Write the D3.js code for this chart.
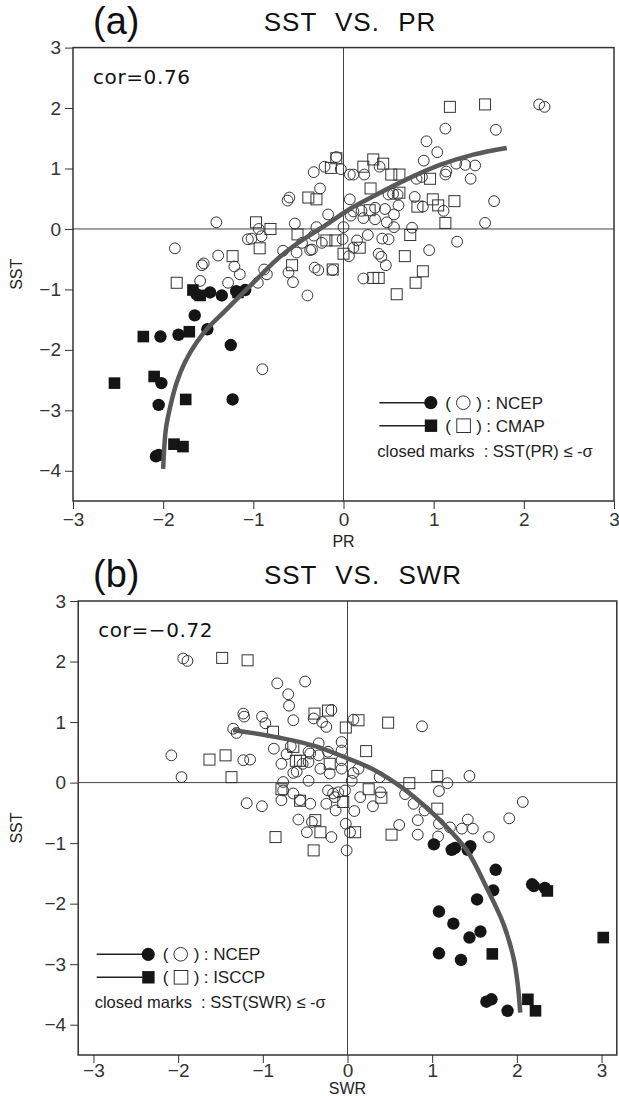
<!DOCTYPE html>
<html>
<head>
<meta charset="utf-8">
<script src="https://cdn.jsdelivr.net/npm/d3@7"></script>
<style>
  body { margin: 0; background: #fff; }
</style>
</head>
<body>
<script>
// ---- panel (a): SST vs PR ----
const prNcepOpen = [
  [-1.87,-0.32],[-1.41,0.11],[-1.39,-0.44],[-1.57,-0.60],[-1.55,-0.57],[-1.59,-0.86],[-1.28,-0.89],
  [-1.21,-0.62],[-1.15,-0.75],[-1.06,-0.17],[-1.02,-0.16],[-0.94,0.00],[-0.91,-0.12],[-0.88,-0.67],
  [-0.85,-0.75],[-0.95,-0.89],[-0.67,-0.36],[-0.61,-0.72],[-0.56,-0.88],[-0.54,0.09],[-0.52,-0.39],
  [-0.46,-0.23],[-0.40,-1.10],[-0.37,-0.35],[-0.35,-0.34],[-0.33,-0.11],[-0.32,-0.64],[-0.28,-0.68],
  [-0.30,0.03],[-0.24,-0.23],[-0.17,0.24],[-0.12,-0.68],[-0.01,-0.17],[0.00,0.03],[0.06,-0.45],
  [0.07,0.49],[0.07,0.90],[-0.62,0.47],[-0.60,0.52],[-0.33,0.94],[-0.26,0.67],[-0.21,1.03],
  [-0.03,0.99],[-0.08,1.19],[-0.90,-2.32],
  [2.17,2.06],[2.23,2.02],[1.13,1.66],[1.69,1.64],[0.92,1.45],[1.04,1.27],[0.89,1.13],[1.25,1.08],
  [1.35,1.06],[1.46,1.05],[1.14,0.95],[1.13,0.90],[1.41,0.83],[0.81,0.83],[0.87,0.86],[0.11,0.90],
  [0.23,0.90],[0.40,1.03],[0.50,0.57],[0.55,0.58],[0.60,0.57],[0.79,0.53],[0.61,0.39],[1.67,0.46],
  [0.88,0.37],[1.11,0.30],[0.35,0.35],[0.46,0.33],[0.11,0.29],[0.20,0.30],[0.56,0.24],[0.08,0.22],
  [0.22,0.18],[0.35,0.16],[0.48,0.11],[0.56,0.03],[0.76,0.02],[1.57,0.10],[0.27,-0.10],[0.43,-0.16],
  [0.50,-0.17],[0.15,-0.19],[0.11,-0.31],[1.26,-0.21],[0.95,-0.35],[0.39,-0.41],[0.42,-0.46],
  [0.47,-0.60],[0.22,-0.82]
];
const prCmapOpen = [
  [-1.85,-0.89],[-1.23,-0.45],[-0.97,0.11],[-0.93,-0.32],[-0.81,0.00],[-0.51,-0.09],[-0.57,-0.60],
  [-0.39,0.52],[-0.30,0.49],[-0.14,1.01],[-0.08,1.17],[-0.12,-0.67],[-0.19,-0.19],[-0.09,-0.19],
  [0.00,-0.41],
  [1.18,2.02],[1.57,2.06],[0.33,1.15],[0.44,1.08],[0.22,1.03],[0.53,0.90],[0.62,0.90],[0.96,0.83],
  [0.30,0.67],[0.62,0.60],[0.99,0.49],[1.23,0.46],[0.82,0.37],[1.05,0.39],[0.29,0.31],[1.13,0.10],
  [0.74,-0.10],[0.18,-0.31],[0.68,-0.45],[0.88,-0.70],[0.80,-0.89],[0.33,-0.81],[0.39,-0.81],
  [0.59,-1.08]
];
const prNcepClosed = [
  [-1.63,-1.08],[-1.48,-1.05],[-1.35,-1.10],[-1.19,-1.03],[-1.09,-1.01],[-1.65,-1.43],[-1.51,-1.66],
  [-2.03,-1.78],[-1.83,-1.75],[-1.25,-1.92],[-2.02,-2.55],[-2.05,-2.91],[-1.23,-2.82],[-2.08,-3.76],
  [-2.05,-3.74]
];
const prCmapClosed = [
  [-1.67,-1.01],[-1.59,-1.10],[-1.17,-1.05],[-2.22,-1.78],[-1.71,-1.70],[-2.54,-2.55],[-2.10,-2.44],
  [-1.75,-2.82],[-1.88,-3.56],[-1.78,-3.60]
];
const prFit = [
  [-2.00,-3.97],[-1.97,-3.31],[-1.92,-2.93],[-1.85,-2.54],[-1.76,-2.21],[-1.63,-1.88],[-1.50,-1.63],
  [-1.33,-1.38],[-1.15,-1.11],[-0.96,-0.83],[-0.78,-0.56],[-0.56,-0.29],[-0.19,0.07],[0.07,0.33],
  [0.33,0.54],[0.70,0.82],[1.07,1.06],[1.44,1.23],[1.81,1.34]
];

// ---- panel (b): SST vs SWR ----
const swrNcepOpen = [
  [-1.94,2.05],[-1.89,2.01],[-0.83,1.64],[-0.50,1.67],[-0.70,1.46],[-0.69,1.27],[-1.23,1.14],
  [-1.22,1.09],[-1.01,1.09],[-0.97,0.98],[-0.64,1.03],[-0.19,1.20],[-0.40,1.06],[-0.30,1.00],
  [-0.25,0.92],[-1.35,0.89],[-1.31,0.82],[-0.87,0.56],[-0.67,0.60],[-0.72,0.47],[-0.44,0.48],
  [-0.34,0.45],[-0.07,0.67],[-0.78,0.31],[-0.64,0.16],[-0.60,0.18],[-0.46,0.34],[-0.53,0.31],
  [-0.32,0.23],[-0.21,0.15],[-0.07,0.23],[-2.08,0.45],[-1.96,0.09],[-1.23,0.37],[-1.15,0.38],
  [-0.76,0.01],[-0.76,-0.13],[-0.46,0.03],[-0.64,-0.18],[-0.56,-0.29],[-0.44,-0.35],[-0.23,-0.13],
  [-0.17,-0.18],[-0.11,-0.16],[-0.25,-0.35],[-1.19,-0.34],[-1.01,-0.39],
  [-0.46,0.51],[-0.34,0.65],[-0.07,0.53],[-0.23,0.51],[-0.07,0.37],[-0.15,-0.24],[-0.03,-0.13],
  [-0.78,-0.29],
  [0.07,1.04],[0.88,0.93],[1.44,0.11],[1.18,-0.01],[1.08,-0.14],[2.07,-0.32],[0.13,0.23],
  [0.07,0.16],[0.05,0.03],[0.38,0.09],[0.68,-0.19],[0.15,-0.24],[0.39,-0.16],[0.78,-0.35],
  [0.30,-0.39],
  [-0.58,-0.61],[-0.42,-0.65],[-0.48,-0.82],[-0.19,-0.90],[-0.01,-1.12],[-0.14,-0.46],[-0.02,-0.68],
  [1.91,-0.59],[1.67,-0.90],[1.42,-0.61],[1.48,-0.76],[1.35,-0.76],[1.21,-0.74],[1.08,-0.68],
  [1.07,-0.89],[0.91,-0.46],[0.83,-0.62],[0.83,-0.86],[0.61,-0.70],[0.08,-0.47],[0.03,-0.82]
];
const swrIsccpOpen = [
  [-1.48,2.06],[-1.18,2.02],[-0.39,1.14],[-0.23,1.19],[-0.88,0.84],[-0.64,0.59],[-0.61,0.36],
  [-0.56,0.36],[-0.21,0.31],[-0.02,0.91],[-1.63,0.38],[-1.44,0.45],[-1.37,0.09],[-0.78,-0.11],
  [-0.56,-0.30],[-0.05,-0.32],
  [0.13,1.03],[0.48,0.99],[0.22,0.52],[1.06,0.11],[0.73,-0.01],[0.25,-0.11],[0.40,-0.25],
  [1.06,-0.43],
  [-0.85,-0.90],[-0.40,-1.12],[-0.38,-0.62],[-0.32,-0.82],[0.52,-0.86],[0.09,-0.82]
];
const swrNcepClosed = [
  [1.02,-1.02],[1.23,-1.11],[1.27,-1.08],[1.42,-1.11],[1.45,-1.05],[1.75,-1.44],[2.18,-1.68],
  [2.20,-1.71],[2.33,-1.74],[1.72,-1.78],[1.53,-1.93],[1.08,-2.13],[1.25,-2.33],[1.57,-2.46],
  [1.44,-2.56],[1.08,-2.82],[1.34,-2.93],[1.64,-3.62],[1.70,-3.58],[1.89,-3.77]
];
const swrIsccpClosed = [
  [2.36,-1.79],[3.02,-2.56],[1.71,-2.83],[2.13,-3.58],[2.22,-3.77]
];
const swrFit = [
  [-1.35,0.87],[-0.80,0.74],[-0.40,0.61],[0.00,0.40],[0.30,0.22],[0.66,-0.10],[0.97,-0.46],
  [1.09,-0.62],[1.41,-1.12],[1.64,-1.73],[1.84,-2.33],[1.96,-2.89],[2.01,-3.33],[2.04,-3.80]
];

const xTicks = [-3, -2, -1, 0, 1, 2, 3];
const yTicks = [-4, -3, -2, -1, 0, 1, 2, 3];

const width = 619, height = 1096;
const sans = "'Liberation Sans', Arial, sans-serif";
const dejavu = "'DejaVu Sans', sans-serif";

const svg = d3.select("body").append("svg")
    .attr("width", width)
    .attr("height", height)
    .attr("viewBox", [0, 0, width, height])
    .style("background", "#fff");

function drawPanel(cfg) {
    const x = d3.scaleLinear().domain(cfg.xDomain).range([cfg.left, cfg.right]);
    const y = d3.scaleLinear().domain([-4.5, 3]).range([cfg.bottom, cfg.top]);
    const g = svg.append("g");

    // zero lines
    g.append("line")
        .attr("x1", cfg.left).attr("x2", cfg.right)
        .attr("y1", y(0)).attr("y2", y(0))
        .attr("stroke", "#444").attr("stroke-width", 1);
    g.append("line")
        .attr("x1", x(0)).attr("x2", x(0))
        .attr("y1", cfg.top).attr("y2", cfg.bottom)
        .attr("stroke", "#444").attr("stroke-width", 1);

    // axes (ticks + labels only, the frame is drawn below)
    g.append("g")
        .attr("transform", `translate(0,${cfg.bottom})`)
        .call(d3.axisBottom(x).tickValues(xTicks).tickSize(8).tickPadding(cfg.xPad).tickFormat(d3.format("d")))
        .call(a => a.select(".domain").remove())
        .call(a => a.selectAll(".tick line").attr("stroke", "#333"))
        .call(a => a.selectAll("text").style("font-family", sans).style("font-size", "19px").attr("fill", "#333"));

    g.append("g")
        .attr("transform", `translate(${cfg.left},0)`)
        .call(d3.axisLeft(y).tickValues(yTicks).tickSize(8).tickPadding(4).tickFormat(d3.format("d")))
        .call(a => a.select(".domain").remove())
        .call(a => a.selectAll(".tick line").attr("stroke", "#333"))
        .call(a => a.selectAll("text").style("font-family", sans).style("font-size", "19px").attr("fill", "#333"));

    // frame
    g.append("rect")
        .attr("x", cfg.left).attr("y", cfg.top)
        .attr("width", cfg.right - cfg.left).attr("height", cfg.bottom - cfg.top)
        .attr("fill", "none").attr("stroke", "#333").attr("stroke-width", 1.5);

    // open marks
    g.append("g").selectAll("circle")
        .data(cfg.ncepOpen)
        .join("circle")
        .attr("cx", d => x(d[0])).attr("cy", d => y(d[1])).attr("r", 5.4)
        .attr("fill", "none").attr("stroke", "#333").attr("stroke-width", 1);
    g.append("g").selectAll("rect")
        .data(cfg.otherOpen)
        .join("rect")
        .attr("x", d => x(d[0]) - 5.5).attr("y", d => y(d[1]) - 5.5)
        .attr("width", 11).attr("height", 11)
        .attr("fill", "none").attr("stroke", "#333").attr("stroke-width", 1);

    // closed marks
    g.append("g").selectAll("circle")
        .data(cfg.ncepClosed)
        .join("circle")
        .attr("cx", d => x(d[0])).attr("cy", d => y(d[1])).attr("r", 6.2)
        .attr("fill", "#151515");
    g.append("g").selectAll("rect")
        .data(cfg.otherClosed)
        .join("rect")
        .attr("x", d => x(d[0]) - 5.8).attr("y", d => y(d[1]) - 5.8)
        .attr("width", 11.6).attr("height", 11.6)
        .attr("fill", "#151515");

    // fitted curve
    g.append("path")
        .datum(cfg.fit)
        .attr("d", d3.line().x(d => x(d[0])).y(d => y(d[1])).curve(d3.curveCatmullRom))
        .attr("fill", "none").attr("stroke", "#595959").attr("stroke-width", 4.5);

    // titles
    g.append("text")
        .attr("x", 93).attr("y", cfg.top - 14)
        .style("font-family", sans).style("font-size", "38px").attr("fill", "#111")
        .text(cfg.tag);
    g.append("text")
        .attr("x", cfg.titleX).attr("y", cfg.top - 17)
        .attr("text-anchor", "middle")
        .style("font-family", sans).style("font-size", "26px").style("word-spacing", "10px")
        .style("letter-spacing", "1px").attr("fill", "#111")
        .text(cfg.title);
    g.append("text")
        .attr("x", cfg.left + 20).attr("y", cfg.top + 36)
        .style("font-family", dejavu).style("font-size", "20px").style("letter-spacing", "0.6px")
        .attr("fill", "#111")
        .text(cfg.cor);

    // axis labels
    g.append("text")
        .attr("transform", `translate(22,${(cfg.top + cfg.bottom) / 2}) rotate(-90)`)
        .attr("text-anchor", "middle")
        .style("font-family", sans).style("font-size", "16px").attr("fill", "#222")
        .text("SST");
    g.append("text")
        .attr("x", x(0)).attr("y", cfg.xLabelY)
        .attr("text-anchor", "middle")
        .style("font-family", sans).style("font-size", "16px").attr("fill", "#222")
        .text(cfg.xLabel);

    // legend
    const lg = g.append("g").attr("transform", `translate(${cfg.legendX},${cfg.legendY})`);
    const rows = [
        { name: "NCEP", shape: "circle" },
        { name: cfg.otherName, shape: "square" }
    ];
    rows.forEach((r, i) => {
        const ry = i * 23;
        lg.append("line").attr("x1", 0).attr("x2", 46).attr("y1", ry).attr("y2", ry)
            .attr("stroke", "#222").attr("stroke-width", 1.5);
        if (r.shape === "circle") {
            lg.append("circle").attr("cx", 51.5).attr("cy", ry).attr("r", 6.6).attr("fill", "#151515");
            lg.append("circle").attr("cx", 84).attr("cy", ry).attr("r", 6.8)
                .attr("fill", "none").attr("stroke", "#333").attr("stroke-width", 1);
        } else {
            lg.append("rect").attr("x", 45.5).attr("y", ry - 6.2).attr("width", 12.4).attr("height", 12.4)
                .attr("fill", "#151515");
            lg.append("rect").attr("x", 77.5).attr("y", ry - 6.8).attr("width", 13.6).attr("height", 13.6)
                .attr("fill", "none").attr("stroke", "#333").attr("stroke-width", 1);
        }
        lg.append("text").attr("x", 66).attr("y", ry + 6)
            .style("font-family", sans).style("font-size", "17px").attr("fill", "#222")
            .text("(");
        lg.append("text").attr("x", 97).attr("y", ry + 6)
            .style("font-family", sans).style("font-size", "17px").attr("fill", "#222")
            .text(")");
        lg.append("text").attr("x", 107).attr("y", ry + 6)
            .style("font-family", sans).style("font-size", "17px").attr("fill", "#222")
            .text(": " + r.name);
    });
    lg.append("text").attr("x", -2).attr("y", 54)
        .style("font-family", sans).style("font-size", "16.5px").attr("fill", "#222")
        .attr("xml:space", "preserve")
        .text(cfg.note);
}

drawPanel({
    xDomain: [-3, 3], left: 73, right: 614, top: 47.6, bottom: 501, xPad: 4, xLabelY: 547,
    tag: "(a)", title: "SST VS. PR", titleX: 350, cor: "cor=0.76", xLabel: "PR",
    ncepOpen: prNcepOpen, otherOpen: prCmapOpen,
    ncepClosed: prNcepClosed, otherClosed: prCmapClosed, fit: prFit,
    otherName: "CMAP", note: "closed marks  : SST(PR) \u2264 -\u03c3",
    legendX: 379.3, legendY: 402.7
});

drawPanel({
    xDomain: [-3.18, 3.18], left: 78.2, right: 616.8, top: 601, bottom: 1055, xPad: 1, xLabelY: 1094,
    tag: "(b)", title: "SST VS. SWR", titleX: 363, cor: "cor=\u22120.72", xLabel: "SWR",
    ncepOpen: swrNcepOpen, otherOpen: swrIsccpOpen,
    ncepClosed: swrNcepClosed, otherClosed: swrIsccpClosed, fit: swrFit,
    otherName: "ISCCP", note: "closed marks  : SST(SWR) \u2264 -\u03c3",
    legendX: 96.7, legendY: 954.3
});
</script>
</body>
</html>
